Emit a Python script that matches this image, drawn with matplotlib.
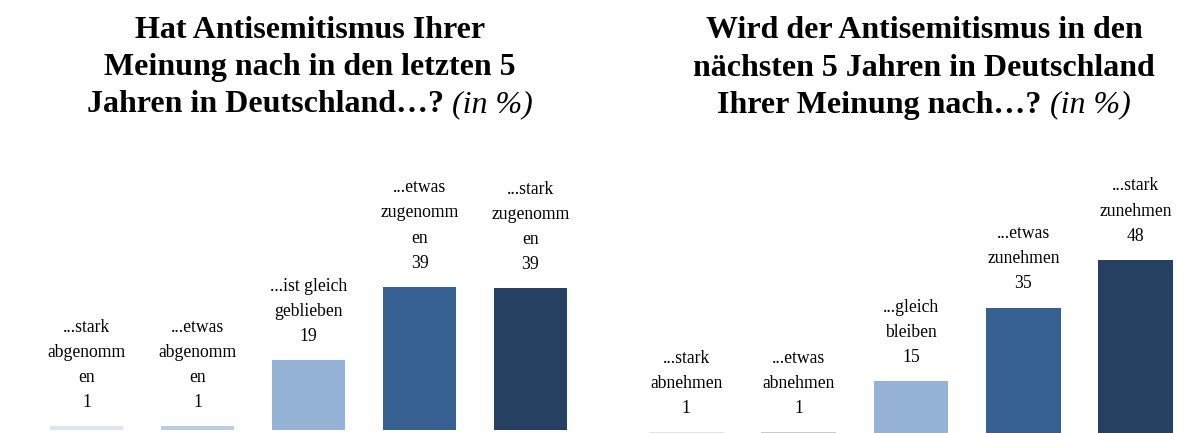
import matplotlib
matplotlib.use("Agg")
import matplotlib.pyplot as plt

plt.rcParams['font.family'] = ['Liberation Serif', 'DejaVu Serif']

# Data
left_labels = ["...stark\nabgenomm\nen", "...etwas\nabgenomm\nen", "...ist gleich\ngeblieben",
               "...etwas\nzugenomm\nen", "...stark\nzugenomm\nen"]
left_values = [1, 1, 19, 39, 38.6]
right_labels = ["...stark\nabnehmen", "...etwas\nabnehmen", "...gleich\nbleiben",
                "...etwas\nzunehmen", "...stark\nzunehmen"]
right_values = [1, 1, 15, 35, 48]
colors = ["#DCE6F2", "#B9CDE5", "#95B3D7", "#376092", "#254061"]

left_title_bold = ["Hat Antisemitismus Ihrer", "Meinung nach in den letzten 5", "Jahren in Deutschland…? "]
right_title_bold = ["Wird der Antisemitismus in den", "nächsten 5 Jahren in Deutschland", "Ihrer Meinung nach…? "]
title_italic = "(in %)"

W, H = 1186, 433
fig = plt.figure(figsize=(W / 100, H / 100), dpi=100)

ymax = 76.3
def make_ax(left_px, width_px, bottom_px, height_px):
    return fig.add_axes([left_px / W, bottom_px / H, width_px / W, height_px / H])

axL = make_ax(31, 555, 3, 280)
axR = make_ax(630, 562, -3, 280)

for ax, labels, vals in [(axL, left_labels, left_values), (axR, right_labels, right_values)]:
    x = list(range(len(vals)))
    ax.bar(x, vals, width=0.665, color=colors)
    ax.set_xlim(-0.5, 4.5)
    ax.set_ylim(0, ymax)
    ax.axis('off')
    for xi, v, lab in zip(x, vals, labels):
        ax.annotate(f"{lab}\n{v:.0f}", xy=(xi, v), xytext=(0, 11), textcoords='offset points',
                    ha='center', va='bottom', fontsize=12.7, linespacing=1.62, color='black',
                    annotation_clip=False)

renderer = fig.canvas.get_renderer()
title_fs = 23
line_y = [30, 68, 105]

def draw_title(cx, lines):
    for i, ln in enumerate(lines[:2]):
        fig.text(cx / W, 1 - line_y[i] / H, ln, ha='center', va='center',
                 fontsize=title_fs, fontweight='bold')
    t1 = fig.text(0, 1 - line_y[2] / H, lines[2], ha='left', va='center',
                  fontsize=title_fs, fontweight='bold')
    t2 = fig.text(0, 1 - line_y[2] / H, title_italic, ha='left', va='center',
                  fontsize=title_fs, fontstyle='italic')
    w1 = t1.get_window_extent(renderer).width
    w2 = t2.get_window_extent(renderer).width
    start = cx - (w1 + w2) / 2
    t1.set_x(start / W)
    t2.set_x((start + w1) / W)

draw_title(310, left_title_bold)
draw_title(924, right_title_bold)

fig.savefig("out.png", dpi=100, facecolor='white')
